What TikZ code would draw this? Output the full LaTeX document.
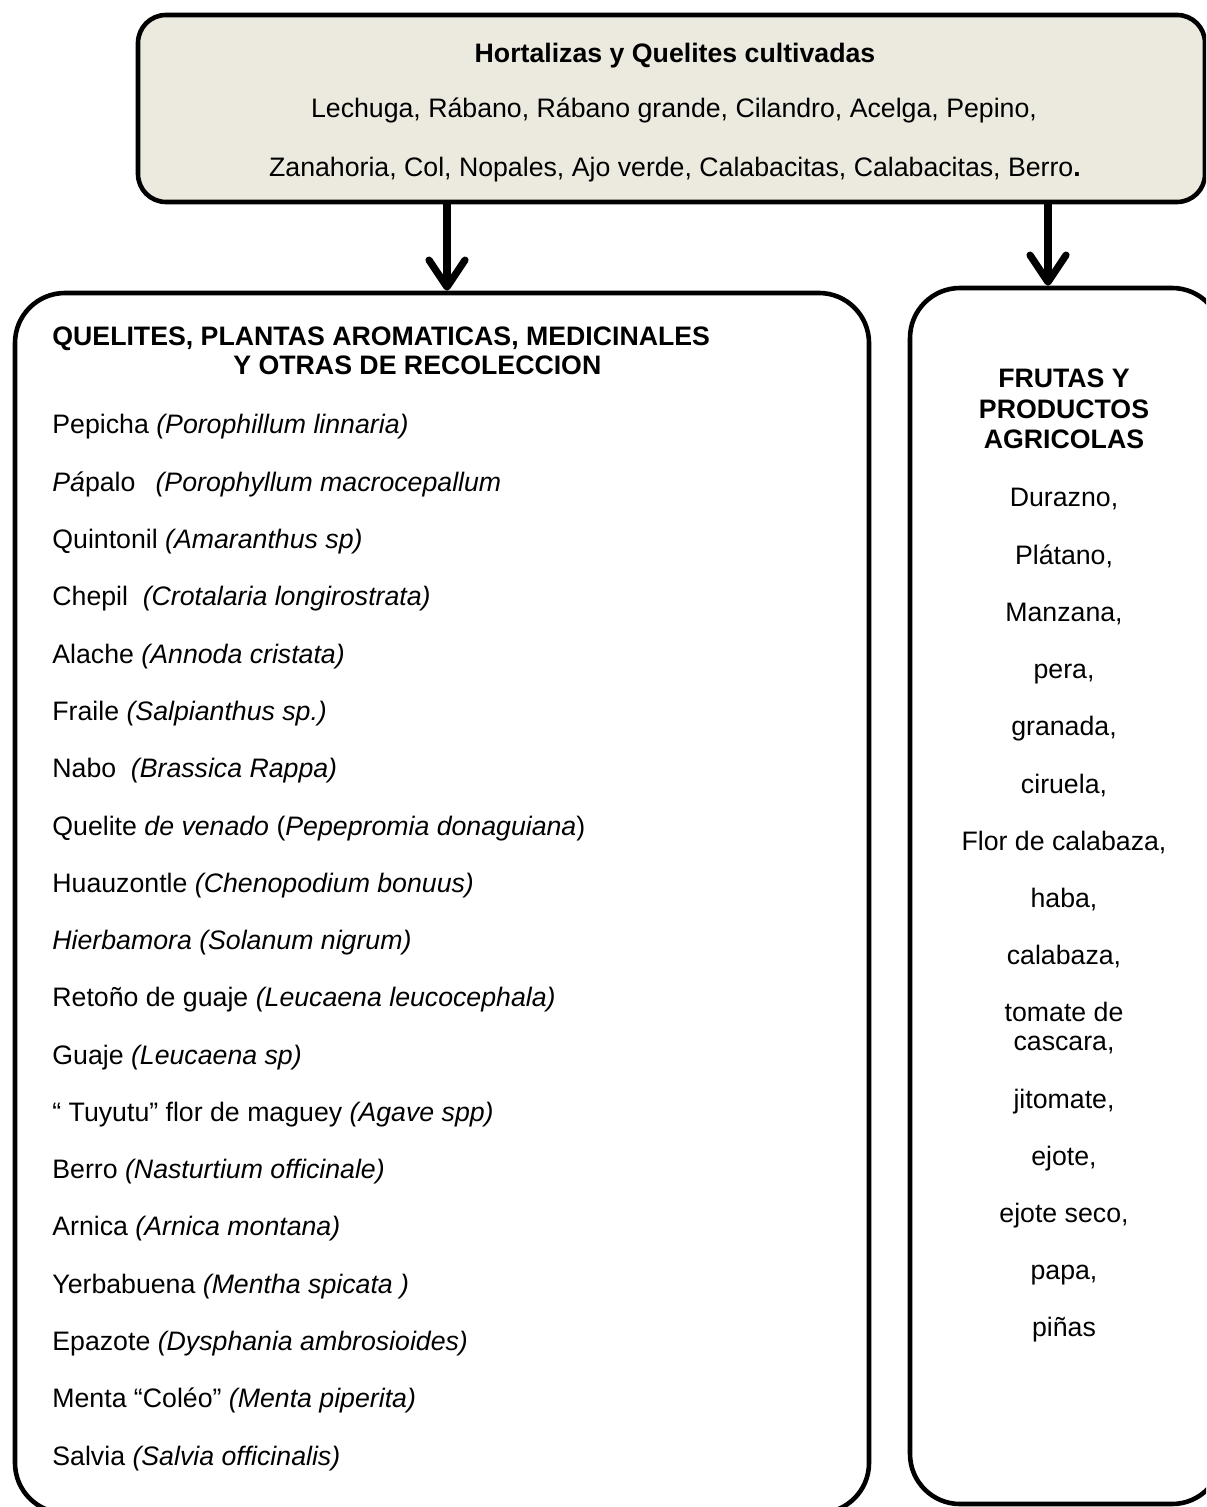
\documentclass[tikz,border=0pt]{standalone}
\usepackage{fontspec}
\setmainfont{Liberation Sans}[Ligatures=NoCommon]
\usetikzlibrary{arrows.meta}
\definecolor{boxfill}{RGB}{236,234,223}
\tikzset{
  frame/.style={draw=black, line width=2.3pt, inner sep=0pt},
  conn/.style={line width=3.6pt, -{Straight Barb[length=13.5pt,width=18pt,round]}},
  item/.style={anchor=base west, inner sep=0pt, font=\fontsize{13.35pt}{16pt}\selectfont},
  citem/.style={anchor=base, inner sep=0pt, font=\fontsize{13.35pt}{16pt}\selectfont},
  bitem/.style={anchor=base, inner sep=0pt, font=\fontsize{13.35pt}{16pt}\selectfont\bfseries},
  bwitem/.style={anchor=base west, inner sep=0pt, font=\fontsize{13.35pt}{16pt}\selectfont\bfseries},
}
\begin{document}
\begin{tikzpicture}[x=0.5pt,y=-0.5pt]
\useasboundingbox (0,0) rectangle (1206,1507);
\clip (0,0) rectangle (1206,1507);
% boxes
\node[frame, fill=boxfill, rounded corners=14pt, minimum width=533.5pt, minimum height=93.5pt] (top) at (671.5,108.5) {};
\node[frame, rounded corners=25pt, minimum width=427pt, minimum height=610pt] (left) at (442,903) {};
\node[frame, rounded corners=25pt, minimum width=156pt, minimum height=608pt] (right) at (1066,896) {};
% top texts
\node[bitem] (t0) at (675,63) {Hortalizas y Quelites cultivadas};
\node[citem] (t1) at (674,118) {Lechuga, Rábano, Rábano grande, Cilandro, Acelga, Pepino,};
\node[citem] (t2) at (675,177) {Zanahoria, Col, Nopales, Ajo verde, Calabacitas, Calabacitas, Berro\textbf{.}};
% arrows
\coordinate (a1) at (447,0);
\coordinate (a2) at (1048,0);
\draw[conn] (a1 |- top.south) -- (a1 |- left.north);
\draw[conn] (a2 |- top.south) -- (a2 |- right.north);
% left header
\node[bwitem] (h1) at (52,346) {QUELITES, PLANTAS AROMATICAS, MEDICINALES};
\node[bwitem] (h2) at (233,375) {Y OTRAS DE RECOLECCION};
% left list
\node[item] (l1) at (52,434.0) {Pepicha \textit{(Porophillum linnaria)}};
\node[item] (l2) at (52,491.3) {\textit{Pá}palo\hspace{0.75em}\textit{(Porophyllum macrocepallum}};
\node[item] (l3) at (52,548.6) {Quintonil \textit{(Amaranthus sp)}};
\node[item] (l4) at (52,605.8) {Chepil\hspace{0.55em}\textit{(Crotalaria longirostrata)}};
\node[item] (l5) at (52,663.1) {Alache \textit{(Annoda cristata)}};
\node[item] (l6) at (52,720.4) {Fraile \textit{(Salpianthus sp.)}};
\node[item] (l7) at (52,777.7) {Nabo\hspace{0.55em}\textit{(Brassica Rappa)}};
\node[item] (l8) at (52,835.0) {Quelite \textit{de venado} (\textit{Pepepromia donaguiana})};
\node[item] (l9) at (52,892.2) {Huauzontle \textit{(Chenopodium bonuus)}};
\node[item] (l10) at (52,949.5) {\textit{Hierbamora (Solanum nigrum)}};
\node[item] (l11) at (52,1006.8) {Retoño de guaje \textit{(Leucaena leucocephala)}};
\node[item] (l12) at (52,1064.1) {Guaje \textit{(Leucaena sp)}};
\node[item] (l13) at (52,1121.4) {“ Tuyutu” flor de maguey \textit{(Agave spp)}};
\node[item] (l14) at (52,1178.6) {Berro \textit{(Nasturtium officinale)}};
\node[item] (l15) at (52,1235.9) {Arnica \textit{(Arnica montana)}};
\node[item] (l16) at (52,1293.2) {Yerbabuena \textit{(Mentha spicata )}};
\node[item] (l17) at (52,1350.5) {Epazote \textit{(Dysphania ambrosioides)}};
\node[item] (l18) at (52,1407.8) {Menta “Coléo” \textit{(Menta piperita)}};
\node[item] (l19) at (52,1465.0) {Salvia \textit{(Salvia officinalis)}};
% right header
\node[bitem] (r0a) at (1064,388) {FRUTAS Y};
\node[bitem] (r0b) at (1064,418.5) {PRODUCTOS};
\node[bitem] (r0c) at (1064,449) {AGRICOLAS};
% right list
\node[citem] (r1) at (1064,507.0) {Durazno,};
\node[citem] (r2) at (1064,564.2) {Plátano,};
\node[citem] (r3) at (1064,621.4) {Manzana,};
\node[citem] (r4) at (1064,678.6) {pera,};
\node[citem] (r5) at (1064,735.8) {granada,};
\node[citem] (r6) at (1064,793.0) {ciruela,};
\node[citem] (r7) at (1064,850.2) {Flor de calabaza,};
\node[citem] (r8) at (1064,907.4) {haba,};
\node[citem] (r9) at (1064,964.6) {calabaza,};
\node[citem] (r10a) at (1064,1021.8) {tomate de};
\node[citem] (r10b) at (1064,1050.8) {cascara,};
\node[citem] (r11) at (1064,1108.0) {jitomate,};
\node[citem] (r12) at (1064,1165.2) {ejote,};
\node[citem] (r13) at (1064,1222.4) {ejote seco,};
\node[citem] (r14) at (1064,1279.6) {papa,};
\node[citem] (r15) at (1064,1336.8) {piñas};
\end{tikzpicture}
\end{document}
